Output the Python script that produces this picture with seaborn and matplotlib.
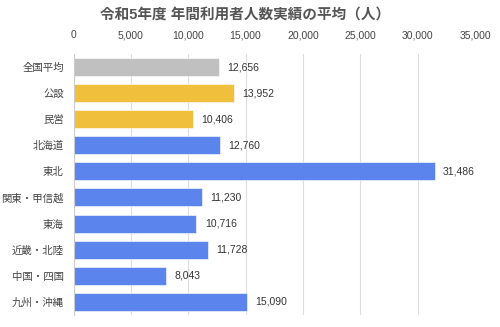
import matplotlib
matplotlib.use("Agg")
import matplotlib.pyplot as plt
import seaborn as sns
import pandas as pd
from matplotlib.ticker import FuncFormatter

categories = ["全国平均", "公設", "民営", "北海道", "東北", "関東・甲信越", "東海", "近畿・北陸", "中国・四国", "九州・沖縄"]
values = [12656, 13952, 10406, 12760, 31486, 11230, 10716, 11728, 8043, 15090]
groups = ["全国", "運営", "運営", "地域", "地域", "地域", "地域", "地域", "地域", "地域"]
palette = {"全国": "#c0c0c0", "運営": "#f0bf3c", "地域": "#5b84ec"}
title = "令和5年度 年間利用者人数実績の平均（人）"

sns.set_theme(style="white")
plt.rcParams['font.family'] = ['Liberation Sans', 'Noto Sans CJK JP', 'DejaVu Sans']

df = pd.DataFrame({"cat": categories, "val": values, "grp": groups})

fig = plt.figure(figsize=(5, 3.27), dpi=100)
ax = fig.add_axes([0.147, 0.037, 0.803, 0.798])
sns.barplot(data=df, x="val", y="cat", hue="grp", palette=palette, dodge=False,
            orient="h", width=0.69, legend=False, ax=ax, saturation=1,
            edgecolor="#ffffff", linewidth=0.4)

ax.set_xlim(0, 35000)
ax.set_xticks(range(0, 35001, 5000))
ax.xaxis.set_major_formatter(FuncFormatter(lambda v, p: f"{int(v):,}"))
ax.xaxis.tick_top()
ax.tick_params(axis="x", length=0, labelsize=7.5, labelcolor="#444444", pad=10)
ax.tick_params(axis="y", length=0, labelsize=7.5, labelcolor="#444444", pad=7)
ax.grid(axis="x", color="#dddddd", linewidth=0.8)
ax.set_axisbelow(True)
for s in ["top", "right", "bottom"]:
    ax.spines[s].set_visible(False)
ax.spines["left"].set_color("#cccccc")
ax.spines["left"].set_linewidth(0.8)
ax.set_xlabel("")
ax.set_ylabel("")

for c in ax.containers:
    ax.bar_label(c, labels=[f"{v:,.0f}" if v == v else "" for v in c.datavalues],
                 padding=6, fontsize=7.5, color="#333333")

fig.text(0.49, 0.953, title, ha="center", va="center", fontsize=10.5,
         fontweight="bold", color="#555555")

fig.savefig("out.png", dpi=100)
